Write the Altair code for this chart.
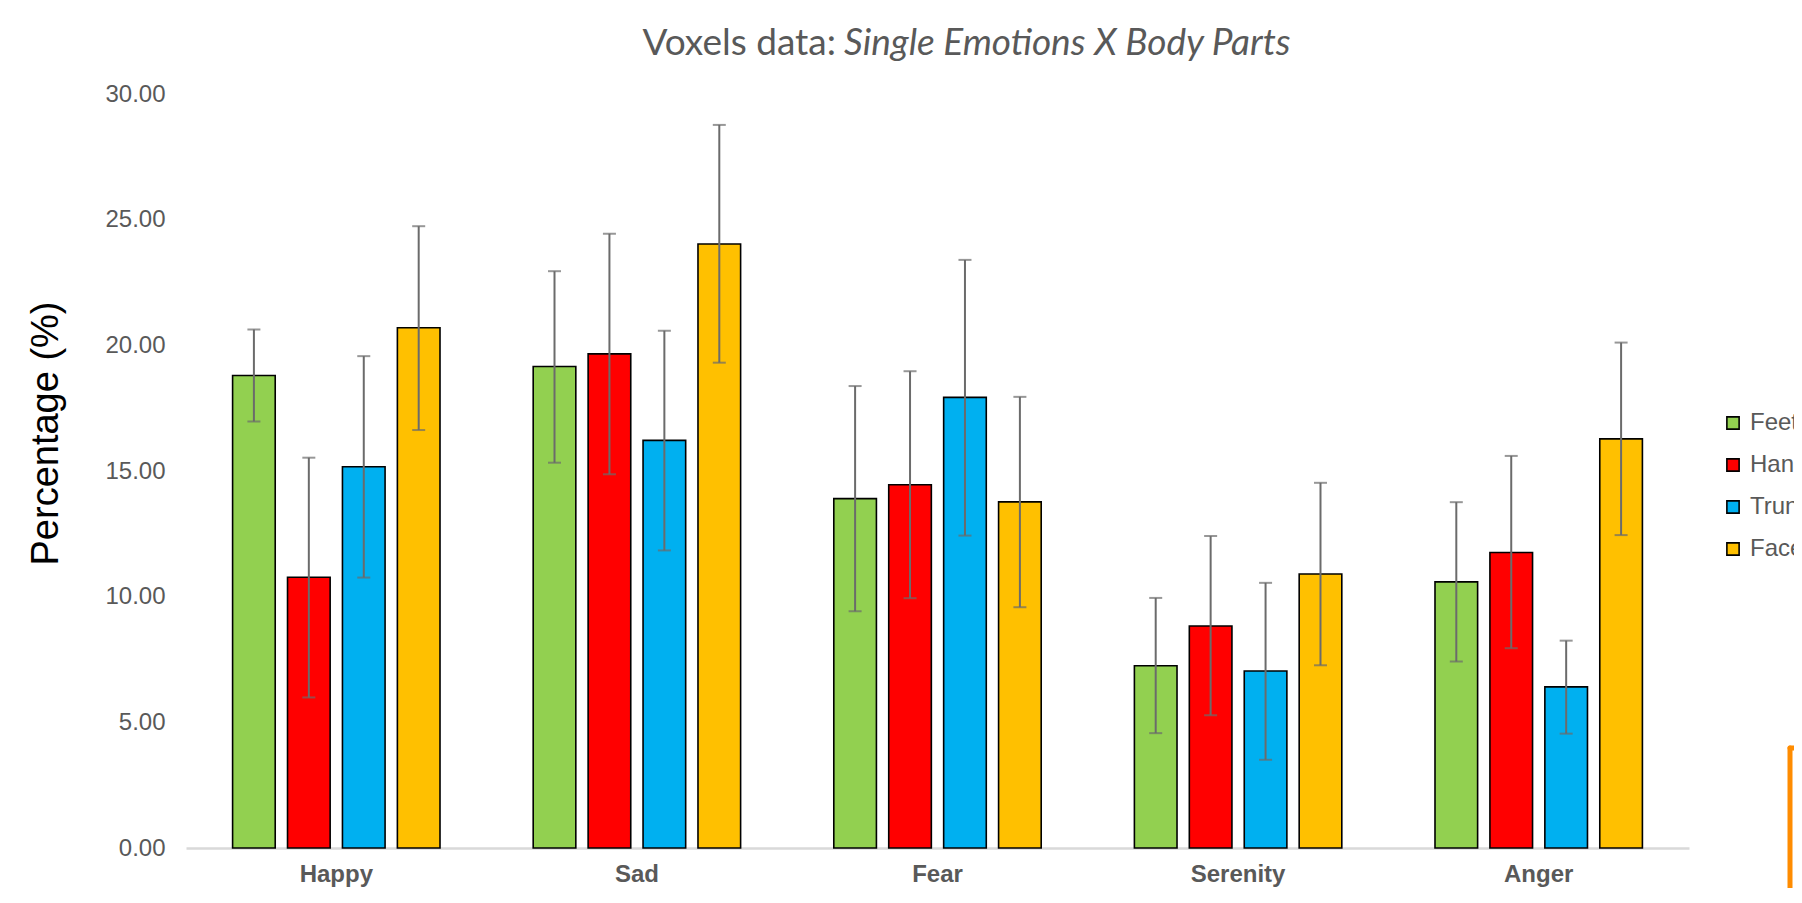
import altair as alt
import pandas as pd

categories = ["Happy", "Sad", "Fear", "Serenity", "Anger"]
parts = ["Feet", "Hands", "Trunk", "Face"]
colors = ["#92d050", "#ff0000", "#00b0f0", "#ffc000"]

feet = [18.80, 19.16, 13.90, 7.25, 10.59]
hands = [10.77, 19.66, 14.45, 8.83, 11.76]
trunk = [15.17, 16.22, 17.93, 7.04, 6.41]
face = [20.70, 24.03, 13.77, 10.90, 16.28]

feet_hi = [20.63, 22.95, 18.38, 9.95, 13.76]
feet_lo = [16.97, 15.33, 9.42, 4.57, 7.42]
hands_hi = [15.53, 24.44, 18.97, 12.41, 15.60]
hands_lo = [5.99, 14.87, 9.94, 5.28, 7.95]
trunk_hi = [19.57, 20.58, 23.40, 10.55, 8.25]
trunk_lo = [10.76, 11.84, 12.43, 3.51, 4.55]
face_hi = [24.74, 28.77, 17.95, 14.53, 20.11]
face_lo = [16.63, 19.31, 9.58, 7.27, 12.45]

y_ticks = [0, 5, 10, 15, 20, 25, 30]

series = {
    "Feet": (feet, feet_lo, feet_hi),
    "Hands": (hands, hands_lo, hands_hi),
    "Trunk": (trunk, trunk_lo, trunk_hi),
    "Face": (face, face_lo, face_hi),
}
rows = []
for p in parts:
    vals, lo, hi = series[p]
    for i, c in enumerate(categories):
        rows.append({"emotion": c, "part": p, "value": vals[i], "lo": lo[i], "hi": hi[i]})
df = pd.DataFrame(rows)

W, H = 1503, 754
L, T, R, B = 178, 86, 105, 40

x_enc = alt.X("emotion:N", sort=categories,
              scale=alt.Scale(paddingInner=0.31, paddingOuter=0.155),
              axis=alt.Axis(title=None, labelAngle=0, ticks=False, domainColor="#d9d9d9",
                            domainWidth=2.5, labelFont="Liberation Sans", labelFontSize=24,
                            labelFontWeight="bold", labelColor="#595959", labelPadding=14))
xo_enc = alt.XOffset("part:N", sort=parts, scale=alt.Scale(paddingInner=0.224, paddingOuter=0))
y_scale = alt.Scale(domain=[0, 30], nice=False)

base = alt.Chart(df)

bars = base.mark_bar(stroke="black", strokeWidth=1.6).encode(
    x=x_enc,
    xOffset=xo_enc,
    y=alt.Y("value:Q", scale=y_scale,
            axis=alt.Axis(values=y_ticks, format=".2f", grid=False, domain=False, ticks=False,
                          labelFont="Liberation Sans", labelFontSize=24, labelColor="#595959",
                          labelPadding=21, title="Percentage (%)", titleFont="Liberation Sans",
                          titleFontSize=38, titleFontWeight="normal", titleColor="black",
                          titleAngle=270, titleX=-140, titleY=339, titleAlign="center",
                          titleBaseline="middle")),
    color=alt.Color("part:N", sort=parts, scale=alt.Scale(domain=parts, range=colors),
                    legend=alt.Legend(title=None, orient="none", legendX=1535, legendY=317,
                                      symbolType="square", symbolSize=150, symbolStrokeColor="black",
                                      symbolStrokeWidth=1.6, labelFont="Liberation Sans",
                                      labelFontSize=24, labelColor="#595959", labelOffset=5,
                                      rowPadding=18, padding=0)),
)

rules = base.mark_rule(color="#6b6b6b", strokeWidth=2).encode(
    x=x_enc, xOffset=xo_enc, y=alt.Y("lo:Q", scale=y_scale), y2="hi:Q")
caps_hi = base.mark_tick(color="#6b6b6b", thickness=2, size=13).encode(
    x=x_enc, xOffset=xo_enc, y=alt.Y("hi:Q", scale=y_scale))
caps_lo = base.mark_tick(color="#6b6b6b", thickness=2, size=13).encode(
    x=x_enc, xOffset=xo_enc, y=alt.Y("lo:Q", scale=y_scale))

title_df1 = pd.DataFrame({"t": ["Voxels data:"]})
title_df2 = pd.DataFrame({"t": ["Single Emotions X Body Parts"]})
t1 = alt.Chart(title_df1).mark_text(font="Lato", fontSize=37, color="#595959", align="right",
                                   baseline="alphabetic").encode(
    x=alt.value(650), y=alt.value(-39), text="t:N")
t2 = alt.Chart(title_df2).mark_text(font="Lato", fontSize=37, color="#595959", align="left",
                                   baseline="alphabetic", fontStyle="italic").encode(
    x=alt.value(658), y=alt.value(-39), text="t:N")

deco = pd.DataFrame({"k": [1]})
orange_v = alt.Chart(deco).mark_rule(color="#ff8c00", strokeWidth=5, strokeCap="round").encode(
    x=alt.value(1604), y=alt.value(654), y2=alt.value(900))
orange_h = alt.Chart(deco).mark_rule(color="#ff8c00", strokeWidth=5, strokeCap="round").encode(
    x=alt.value(1604), x2=alt.value(1640), y=alt.value(654))

chart = alt.layer(bars, rules, caps_hi, caps_lo, t1, t2, orange_v, orange_h).properties(
    width=W, height=H,
    autosize=alt.AutoSizeParams(type="none"),
    padding={"left": L, "top": T, "right": R, "bottom": B},
).configure(background="white").configure_view(strokeWidth=0, stroke=None)

chart.save("out.html", embed_options={"renderer": "svg", "actions": False})
